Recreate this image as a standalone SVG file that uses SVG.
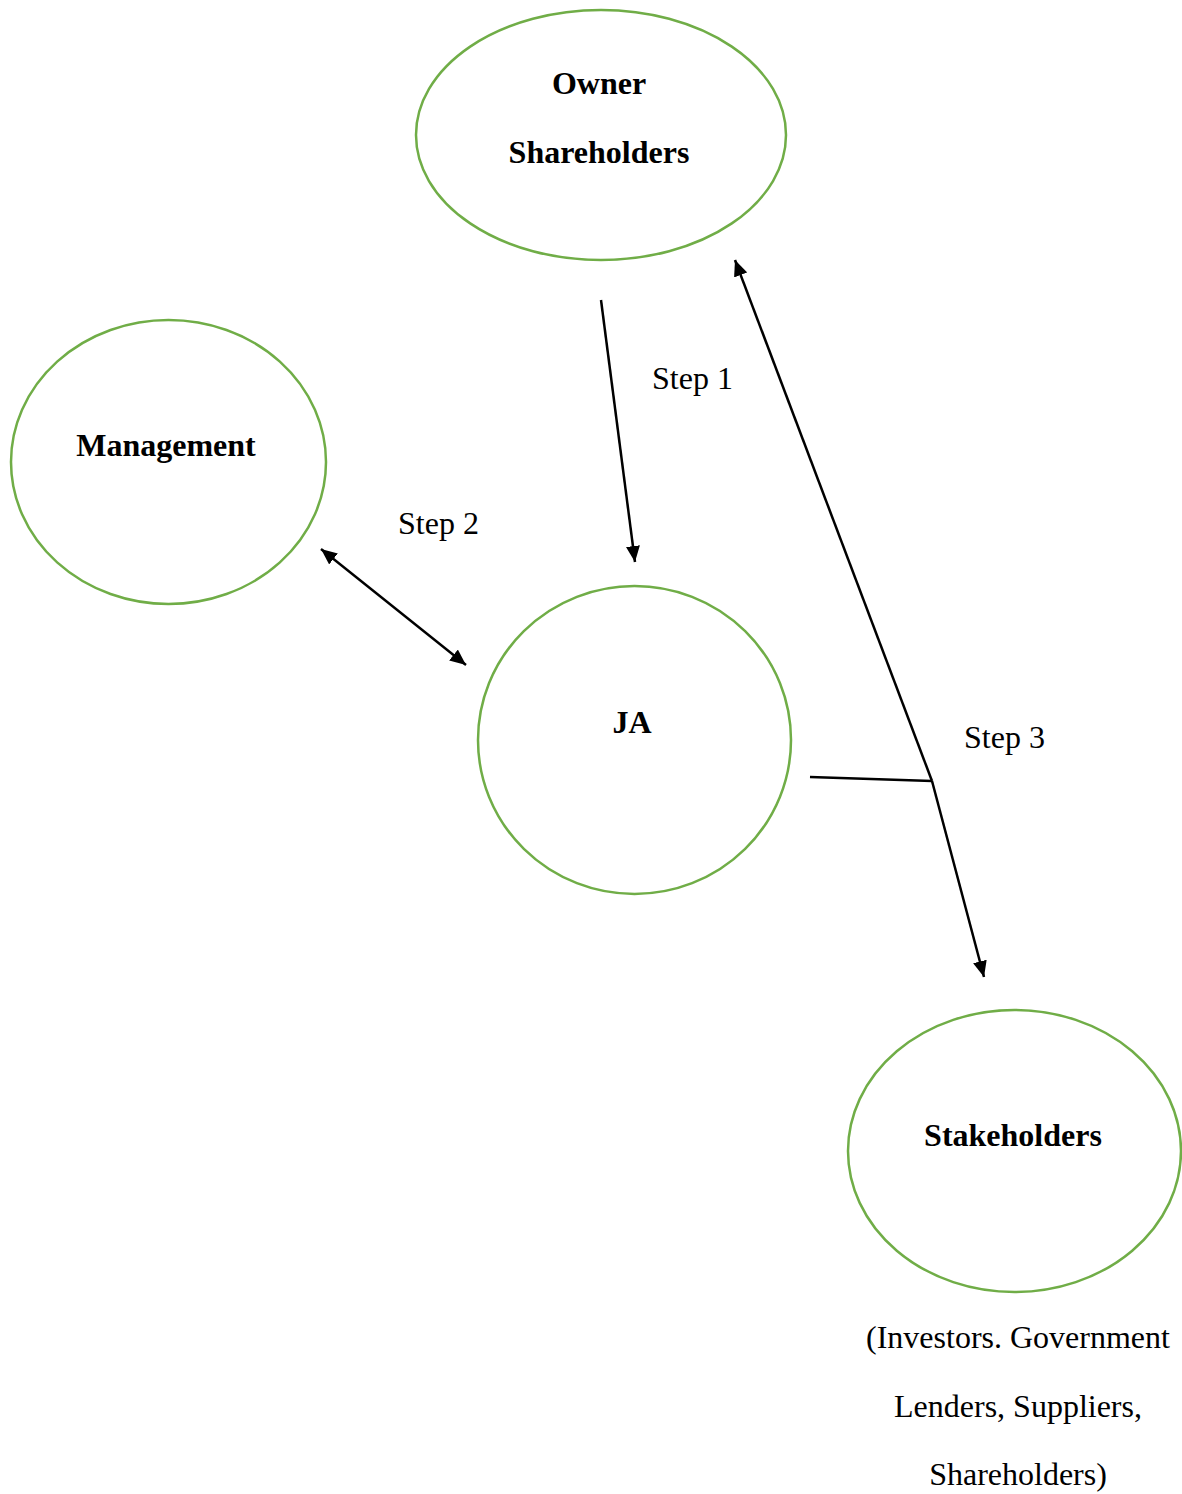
<svg xmlns="http://www.w3.org/2000/svg" width="1182" height="1494" viewBox="0 0 1182 1494">
<style>
.node{fill:none;stroke:#70AD47;stroke-width:2.5}
.lbl{font-family:"Liberation Serif","Times New Roman",serif;font-size:32px;font-weight:bold;fill:#000;text-anchor:middle}
.txt{font-family:"Liberation Serif","Times New Roman",serif;font-size:32px;fill:#000}
.mid{text-anchor:middle}
.con{stroke:#000;stroke-width:2.5;fill:none}
</style>
<defs>
<marker id="ah" markerUnits="userSpaceOnUse" markerWidth="16" markerHeight="14" refX="16" refY="7" orient="auto-start-reverse" viewBox="0 0 16 14">
<path d="M0,0 L16,7 L0,14 Z" fill="#000"/>
</marker>
</defs>
<rect width="1182" height="1494" fill="#fff"/>
<g id="owner">
<ellipse class="node" cx="601" cy="135" rx="185" ry="125"/>
<text class="lbl" x="599" y="94">Owner</text>
<text class="lbl" x="599" y="163">Shareholders</text>
</g>
<g id="management">
<ellipse class="node" cx="168.5" cy="462" rx="157.5" ry="142"/>
<text class="lbl" x="166" y="456">Management</text>
</g>
<g id="ja">
<ellipse class="node" cx="634.5" cy="740" rx="156.5" ry="154"/>
<text class="lbl" x="632" y="733">JA</text>
</g>
<g id="stakeholders">
<ellipse class="node" cx="1014.5" cy="1151" rx="166.5" ry="141"/>
<text class="lbl" x="1013" y="1146">Stakeholders</text>
<text class="txt mid" x="1018" y="1348">(Investors. Government</text>
<text class="txt mid" x="1018" y="1417">Lenders, Suppliers,</text>
<text class="txt mid" x="1018" y="1485">Shareholders)</text>
</g>
<g id="connectors">
<line class="con" x1="601" y1="300" x2="635" y2="562" marker-end="url(#ah)"/>
<line class="con" x1="321" y1="549" x2="466" y2="665" marker-start="url(#ah)" marker-end="url(#ah)"/>
<line class="con" x1="810" y1="777" x2="932" y2="781"/>
<line class="con" x1="932" y1="781" x2="735" y2="260" marker-end="url(#ah)"/>
<line class="con" x1="932" y1="781" x2="984" y2="977" marker-end="url(#ah)"/>
<text class="txt" x="652" y="389">Step 1</text>
<text class="txt" x="398" y="534">Step 2</text>
<text class="txt" x="964" y="748">Step 3</text>
</g>
</svg>
